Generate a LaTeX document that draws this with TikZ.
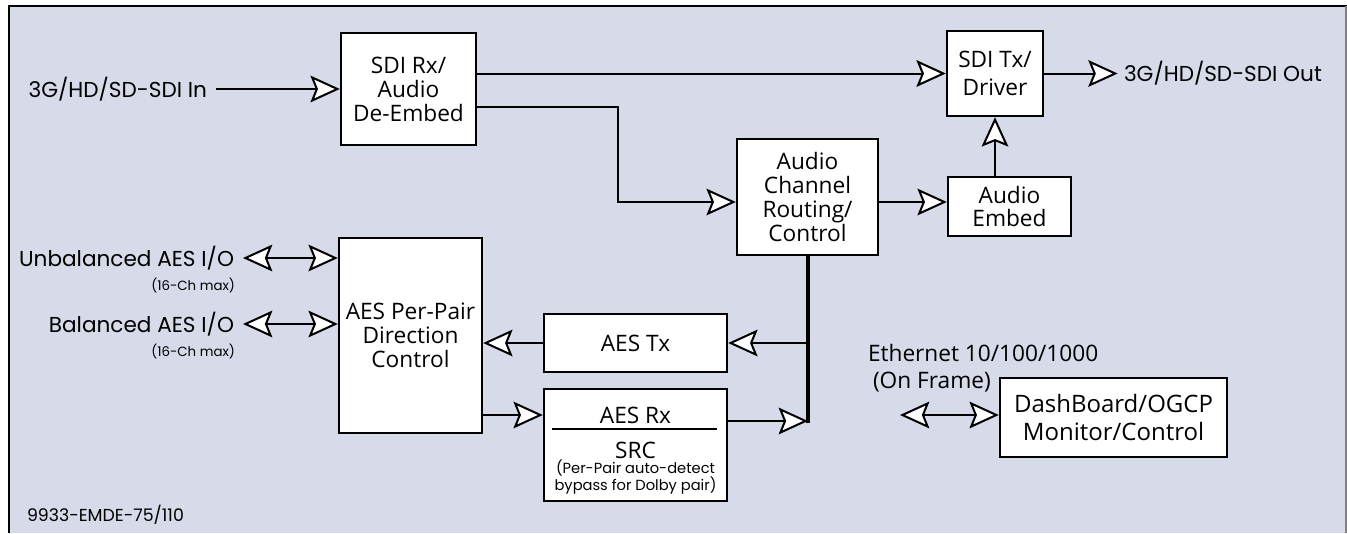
\documentclass[tikz,border=0pt]{standalone}
\usepackage{fontspec}
\setmainfont{Open Sans}
\newfontfamily\labelfont{Poppins}
\usepackage{tikz}
\usetikzlibrary{arrows.meta,positioning}
\definecolor{panel}{RGB}{214,218,233}

\begin{document}
\begin{tikzpicture}[x=0.75pt,y=-0.75pt,line width=1.5pt]
  \tikzstyle{block}=[draw=black,fill=white,line width=1.8pt,align=center,inner sep=0pt,
                     font=\fontsize{17}{18}\selectfont]
  \tikzstyle{lbl}=[font=\labelfont\fontsize{16.2}{18}\selectfont,inner sep=0pt]
  \tikzstyle{note}=[font=\labelfont\fontsize{11}{12.5}\selectfont,inner sep=0pt,align=center]
  \tikzstyle{sig}=[-{Stealth[length=22pt,width=20pt,inset=4pt,fill=white,line width=1.5pt]}]
  \tikzstyle{bidir}=[{Stealth[length=22pt,width=20pt,inset=4pt,fill=white,line width=1.5pt]}-{Stealth[length=22pt,width=20pt,inset=4pt,fill=white,line width=1.5pt]}]

  % panel
  \useasboundingbox (0,0) rectangle (1347,533);
  \fill[panel] (9,6) rectangle (1347,533);
  \draw[line width=2pt] (9,533) -- (9,6) -- (1347,6);
  \draw[gray,line width=1pt] (1346,6) -- (1346,533);

  % blocks
  \node[block,minimum width=101.25pt,minimum height=84pt]   (rx)  at (408.5,89)   {SDI Rx/\\Audio\\De-Embed};
  \node[block,minimum width=72pt,minimum height=63.75pt,font=\fontsize{17}{21}\selectfont]
                                                              (tx)  at (995,73.5)   {SDI Tx/\\Driver};
  \node[block,minimum width=92.25pt,minimum height=44.25pt,font=\fontsize{17}{17}\selectfont]
                                                              (emb) at (1009.5,206.5) {Audio\\Embed};
  \node[block,minimum width=105.75pt,minimum height=87pt]   (rt)  at (807.5,197)  {Audio\\Channel\\Routing/\\Control};
  \node[block,minimum width=107.25pt,minimum height=146.25pt] (pp) at (410.5,335.5) {AES Per-Pair\\Direction\\Control};
  \node[block,minimum width=137.25pt,minimum height=43.5pt] (atx) at (635.5,343)  {AES Tx};
  \node[block,minimum width=137.25pt,minimum height=84pt]   (arx) at (635.5,445)  {};
  \node[font=\fontsize{17}{18}\selectfont,inner sep=0pt]    (arxt) at (635.5,415) {AES Rx};
  \node[font=\fontsize{17}{18}\selectfont,inner sep=0pt]    (src) at (635.5,450)  {SRC};
  \node[note]                                                (srcn) at (635.5,477) {(Per-Pair auto-detect\\bypass for Dolby pair)};
  \draw[line width=0.8pt] (552,429) -- (717,429);
  \node[block,minimum width=170.25pt,minimum height=59.25pt,font=\fontsize{18}{21}\selectfont]
                                                              (db)  at (1113.5,417.5) {DashBoard/OGCP\\Monitor/Control};

  % outside labels
  \node[lbl,anchor=east]  (in)   at (208,89)   {3G/HD/SD-SDI In};
  \node[lbl,anchor=west]  (out)  at (1123,73.5) {3G/HD/SD-SDI Out};
  \node[lbl,anchor=east]  (unb)  at (235,258)  {Unbalanced AES I/O};
  \node[note,font=\labelfont\fontsize{10}{12}\selectfont,anchor=east] (unbn) at (236,286) {(16-Ch max)};
  \node[lbl,anchor=east]  (bal)  at (235,324)  {Balanced AES I/O};
  \node[note,font=\labelfont\fontsize{10}{12}\selectfont,anchor=east] (baln) at (236,352) {(16-Ch max)};
  \node[font=\fontsize{17}{18}\selectfont,inner sep=0pt,anchor=west] (eth)  at (867,353) {Ethernet 10/100/1000};
  \node[font=\fontsize{17}{18}\selectfont,inner sep=0pt,anchor=west] (ethf) at (872,382) {(On Frame)};
  \node[font=\labelfont\fontsize{13}{15}\selectfont,inner sep=0pt,anchor=west] (tag) at (26,515) {9933-EMDE-75/110};

  \coordinate (bend)  at (618,202);
  \coordinate (bus)   at (808,423);
  \coordinate (ethio) at (900,415);

  % connectors
  \draw[sig,shorten <=6pt] (in) -- (rx);
  \draw[sig] (rx.east |- tx) -- (tx);
  \draw[sig] ([yshift=-13.5pt]rx.east) -| (bend) -- (bend -| rt.west);
  \draw[sig] (rt.east |- bend) -- (emb.west |- bend);
  \draw[sig] (emb.north -| tx.south) -- (tx.south);
  \draw[sig,shorten >=4pt] (tx) -- (out);
  \draw[line width=3pt] (rt.south -| bus) -- (bus);
  \draw[sig] (bus |- atx) -- (atx.east);
  \draw[sig] (atx.west) -- (atx.west -| pp.east);
  \draw[sig] (pp.east |- arxt) -- (arx.west |- arxt);
  \draw[sig] ([yshift=-4.5pt]arx.east |- arxt) -- ([yshift=-4.5pt]bus |- arxt);
  \draw[bidir,shorten <=6pt] (unb.east) -- (unb.east -| pp.west);
  \draw[bidir,shorten <=6pt] (bal.east) -- (bal.east -| pp.west);
  \draw[bidir] (ethio) -- (ethio -| db.west);
\end{tikzpicture}
\end{document}
